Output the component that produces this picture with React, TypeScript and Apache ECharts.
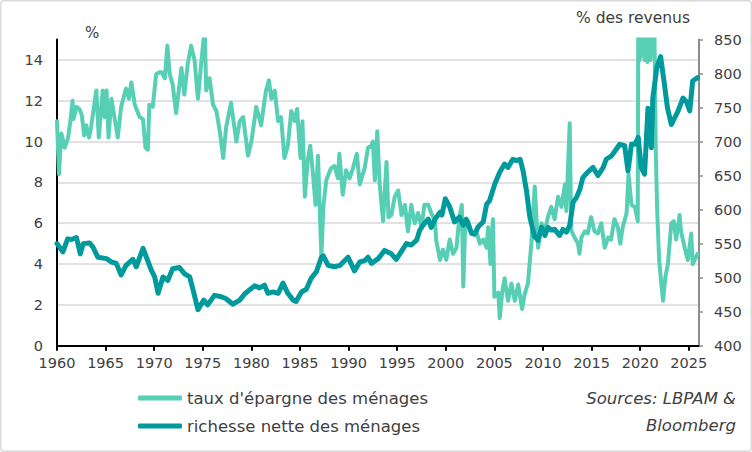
import React, { useEffect, useRef } from "react";
import * as echarts from "echarts";

const seriesNames = ["taux d'épargne des ménages", "richesse nette des ménages"];
const xTicks = [1960, 1965, 1970, 1975, 1980, 1985, 1990, 1995, 2000, 2005, 2010, 2015, 2020, 2025];

// taux d'épargne des ménages (%), [année, valeur]
const savingsRate: [number, number][] = [
  [1960.0, 11.0], [1960.2, 8.4], [1960.45, 10.4], [1960.8, 9.7], [1961.15, 10.2], [1961.4, 11.1], [1961.6, 12.0], [1961.7, 11.1],
  [1962.0, 11.7], [1962.3, 11.6], [1962.55, 11.3], [1962.8, 10.3], [1963.0, 10.8], [1963.3, 10.2], [1963.5, 10.7], [1964.05, 12.5],
  [1964.3, 10.2], [1964.7, 12.5], [1964.9, 11.2], [1965.1, 12.5], [1965.3, 10.2], [1965.6, 12.1], [1966.25, 10.2], [1966.6, 11.7],
  [1967.1, 12.6], [1967.4, 12.1], [1967.65, 12.9], [1968.0, 11.8], [1968.5, 11.2], [1968.85, 11.1], [1969.1, 9.7], [1969.35, 9.6],
  [1969.5, 11.8], [1969.85, 11.7], [1970.2, 13.3], [1970.55, 13.4], [1970.75, 13.4], [1971.1, 13.1], [1971.35, 14.7], [1971.6, 13.3],
  [1971.9, 12.8], [1972.25, 11.4], [1972.8, 13.6], [1973.1, 12.3], [1973.45, 13.8], [1973.8, 14.7], [1974.15, 14.0], [1974.5, 12.1],
  [1974.85, 13.9], [1975.2, 15.6], [1975.35, 12.5], [1975.7, 13.1], [1976.05, 11.8], [1976.4, 11.5], [1976.75, 10.5], [1977.1, 9.2],
  [1977.4, 10.7], [1977.9, 11.9], [1978.45, 10.0], [1978.8, 11.0], [1979.15, 11.2], [1979.65, 9.3], [1980.0, 10.0], [1980.5, 11.7],
  [1981.0, 10.8], [1981.5, 12.5], [1981.8, 13.0], [1982.05, 12.1], [1982.4, 12.5], [1982.75, 11.0], [1983.05, 11.2], [1983.4, 9.2],
  [1983.75, 9.8], [1984.1, 11.5], [1984.45, 11.0], [1984.7, 11.6], [1985.05, 9.2], [1985.25, 11.0], [1985.5, 7.3], [1985.8, 9.1],
  [1986.05, 9.8], [1986.3, 8.6], [1986.6, 6.9], [1986.85, 9.3], [1987.2, 4.35], [1987.4, 6.8], [1987.7, 8.1], [1988.2, 8.7],
  [1988.55, 8.8], [1988.9, 8.2], [1989.05, 9.4], [1989.4, 7.4], [1989.75, 8.6], [1990.1, 8.2], [1990.45, 8.7], [1990.85, 9.4],
  [1991.15, 7.9], [1991.65, 8.7], [1992.0, 9.7], [1992.35, 9.8], [1992.5, 10.0], [1992.7, 8.1], [1992.95, 10.5], [1993.2, 7.9],
  [1993.55, 6.1], [1993.9, 9.0], [1994.1, 6.3], [1994.4, 6.4], [1994.75, 7.3], [1995.1, 7.6], [1995.45, 6.4], [1995.8, 6.9],
  [1996.1, 5.6], [1996.45, 6.9], [1996.8, 6.0], [1997.15, 6.5], [1997.5, 5.8], [1997.8, 6.9], [1998.2, 6.9], [1998.5, 6.5],
  [1998.9, 6.1], [1999.0, 5.2], [1999.4, 4.2], [1999.7, 4.7], [2000.05, 4.2], [2000.4, 5.2], [2000.75, 4.5], [2001.1, 4.8],
  [2001.4, 6.3], [2001.65, 6.9], [2001.8, 2.9], [2002.0, 6.0], [2002.3, 6.1], [2002.6, 5.6], [2002.95, 5.4], [2003.15, 5.6],
  [2003.5, 5.0], [2003.85, 5.2], [2004.2, 4.8], [2004.35, 5.8], [2004.6, 4.0], [2004.85, 6.2], [2005.0, 2.4], [2005.4, 2.6],
  [2005.55, 1.35], [2005.8, 2.6], [2006.05, 3.3], [2006.4, 2.2], [2006.75, 3.05], [2007.1, 2.2], [2007.45, 3.0], [2007.85, 1.8],
  [2008.1, 2.5], [2008.45, 3.05], [2008.8, 5.0], [2009.15, 7.8], [2009.5, 4.8], [2009.85, 6.0], [2010.2, 5.6], [2010.5, 6.3],
  [2010.85, 6.8], [2011.2, 6.2], [2011.55, 7.3], [2011.9, 6.8], [2012.25, 7.9], [2012.4, 6.6], [2012.75, 10.9], [2012.9, 5.65],
  [2013.25, 5.3], [2013.6, 5.0], [2013.75, 4.5], [2013.95, 5.3], [2014.3, 5.6], [2014.6, 5.5], [2014.95, 6.3], [2015.3, 5.6],
  [2015.65, 5.5], [2016.0, 6.0], [2016.35, 4.8], [2016.7, 5.3], [2017.0, 5.2], [2017.35, 6.2], [2017.7, 5.8], [2017.95, 5.0],
  [2018.2, 5.8], [2018.6, 6.5], [2018.8, 8.4], [2019.1, 6.9], [2019.45, 6.8], [2019.75, 6.1], [2019.85, 26], [2019.95, 14.0],
  [2020.05, 20], [2020.15, 14.2], [2020.3, 18], [2020.45, 14.0], [2020.6, 16], [2020.75, 13.9], [2020.9, 19], [2021.05, 14.0],
  [2021.2, 22], [2021.35, 14.2], [2021.45, 16], [2021.6, 9.6], [2021.75, 6.6], [2021.95, 4.2],
  [2022.1, 3.4], [2022.35, 2.2], [2022.6, 3.4], [2022.85, 4.0], [2023.2, 6.0], [2023.45, 6.1], [2023.7, 5.2], [2024.05, 6.4],
  [2024.2, 5.6], [2024.6, 4.75], [2024.9, 4.2], [2025.25, 5.5], [2025.4, 4.0], [2025.9, 4.5],
];

// richesse nette des ménages (% des revenus), [année, valeur]
const netWorth: [number, number][] = [
  [1960.0, 550], [1960.6, 538], [1961.1, 557], [1961.5, 556], [1962.0, 559], [1962.4, 535], [1962.7, 550], [1963.35, 551],
  [1963.7, 545], [1964.2, 530], [1965.1, 528], [1965.6, 523], [1966.1, 521], [1966.6, 504], [1967.1, 518], [1967.8, 527],
  [1968.15, 516], [1968.85, 543], [1969.2, 530], [1969.7, 511], [1970.05, 501], [1970.4, 477], [1970.9, 501], [1971.4, 496],
  [1971.9, 513], [1972.6, 515], [1973.1, 506], [1973.65, 501], [1974.0, 482], [1974.5, 453], [1975.1, 467], [1975.5, 460],
  [1976.2, 474], [1976.9, 472], [1977.4, 469], [1978.1, 461], [1978.8, 467], [1979.3, 476], [1979.8, 482], [1980.35, 488],
  [1980.85, 485], [1981.35, 489], [1981.7, 477], [1982.2, 479], [1982.75, 477], [1983.25, 492], [1983.75, 477], [1984.3, 467],
  [1984.6, 465], [1985.15, 479], [1985.65, 483], [1986.15, 499], [1986.7, 509], [1987.2, 530], [1987.4, 532], [1987.9, 518],
  [1988.55, 516], [1989.1, 518], [1989.95, 530], [1990.6, 510], [1991.15, 523], [1991.65, 525], [1992.0, 530], [1992.35, 521],
  [1993.05, 528], [1993.7, 540], [1994.4, 535], [1994.9, 527], [1995.4, 538], [1995.95, 550], [1996.45, 548], [1997.0, 555],
  [1997.3, 569], [1997.65, 577], [1998.2, 586], [1998.5, 574], [1998.9, 586], [1999.4, 596], [1999.6, 592], [1999.95, 616],
  [2000.4, 604], [2000.9, 582], [2001.4, 589], [2001.8, 577], [2002.1, 586], [2002.65, 565], [2003.0, 565], [2003.3, 574],
  [2003.85, 582], [2004.2, 608], [2004.5, 613], [2005.05, 638], [2005.55, 655], [2006.05, 667], [2006.4, 662], [2006.9, 674],
  [2007.25, 672], [2007.65, 674], [2007.95, 657], [2008.3, 628], [2008.65, 589], [2009.15, 560], [2009.5, 555], [2009.85, 574],
  [2010.2, 562], [2010.5, 574], [2010.85, 570], [2011.2, 571], [2011.7, 562], [2012.05, 571], [2012.4, 567], [2012.75, 577],
  [2013.1, 611], [2013.45, 618], [2013.8, 630], [2014.1, 647], [2014.6, 655], [2015.15, 662], [2015.65, 650], [2016.2, 662],
  [2016.5, 674], [2017.05, 679], [2017.55, 689], [2017.9, 696], [2018.4, 694], [2018.75, 657], [2019.1, 696], [2019.45, 696],
  [2019.8, 706], [2020.1, 662], [2020.45, 652], [2020.8, 749], [2021.15, 691], [2021.3, 764], [2021.7, 808], [2022.1, 825],
  [2022.45, 789], [2022.8, 750], [2023.2, 725], [2023.55, 735], [2023.9, 745], [2024.4, 764], [2024.75, 759], [2025.1, 745],
  [2025.4, 789], [2025.9, 794],
];

const LIGHT = "#57CFB5";
const DARK = "#00999C";
const FONT = "'DejaVu Sans', sans-serif";
const TXT = "#404040";

export default function App() {
  const ref = useRef<HTMLDivElement>(null);
  useEffect(() => {
    if (!ref.current) return;
    const chart = echarts.init(ref.current, null, { renderer: "svg" });
    chart.setOption({
      animation: false,
      backgroundColor: "#ffffff",
      textStyle: { fontFamily: FONT },
      grid: { left: 57, right: 53, top: 39.5, bottom: 106.3 },
      legend: {
        data: seriesNames,
        orient: "vertical",
        left: 138,
        top: 389,
        padding: 0,
        itemWidth: 44,
        itemHeight: 5,
        itemGap: 10,
        icon: "roundRect",
        textStyle: { fontSize: 16.5, color: TXT, fontFamily: FONT, lineHeight: 18 },
      },
      xAxis: {
        type: "value",
        min: 1960,
        max: 2026.05,
        interval: 5,
        axisLine: { show: true, onZero: false, lineStyle: { color: "#000", width: 2 } },
        axisTick: { show: true, length: 5, customValues: xTicks, lineStyle: { color: "#000", width: 2 } },
        axisLabel: {
          customValues: xTicks,
          formatter: (v: number) => String(v),
          fontSize: 14.5,
          color: TXT,
          margin: 10,
          fontFamily: FONT,
        },
        splitLine: { show: false },
      },
      yAxis: [
        {
          type: "value",
          min: 0,
          max: 15,
          interval: 2,
          position: "left",
          axisLine: { show: true, onZero: false, lineStyle: { color: "#000", width: 2 } },
          axisTick: { show: false },
          axisLabel: {
            formatter: (v: number) => (v > 14 ? "" : String(v)),
            fontSize: 14.5,
            color: TXT,
            margin: 14,
            fontFamily: FONT,
          },
          splitLine: { show: true, showMinLine: false, showMaxLine: false, lineStyle: { color: "#d9d9d9", width: 1.5 } },
        },
        {
          type: "value",
          min: 400,
          max: 850,
          interval: 50,
          position: "right",
          axisLine: { show: true, onZero: false, lineStyle: { color: "#8c8c8c", width: 2 } },
          axisTick: { show: true, inside: false, length: 4, lineStyle: { color: "#8c8c8c", width: 1.5 } },
          axisLabel: { fontSize: 14.5, color: TXT, margin: 15, fontFamily: FONT },
          splitLine: { show: false },
        },
      ],
      graphic: [
        {
          type: "rect",
          silent: true,
          shape: { x: 0.75, y: 0.75, width: 750.5, height: 450.5, r: 3 },
          style: { fill: "none", stroke: "#d9d9d9", lineWidth: 1.5 },
        },
        {
          type: "text",
          x: 92,
          y: 33,
          style: { text: "%", fontSize: 15, fill: TXT, fontFamily: FONT, textAlign: "center", textVerticalAlign: "middle" },
        },
        {
          type: "text",
          x: 633,
          y: 18,
          style: { text: "% des revenus", fontSize: 15.5, fill: TXT, fontFamily: FONT, textAlign: "center", textVerticalAlign: "middle" },
        },
        {
          type: "text",
          x: 736,
          y: 398,
          style: { text: "Sources: LBPAM &", fontSize: 16.5, fontStyle: "italic", fill: TXT, fontFamily: FONT, textAlign: "right", textVerticalAlign: "middle" },
        },
        {
          type: "text",
          x: 736,
          y: 425,
          style: { text: "Bloomberg", fontSize: 16.5, fontStyle: "italic", fill: TXT, fontFamily: FONT, textAlign: "right", textVerticalAlign: "middle" },
        },
      ],
      series: [
        {
          name: seriesNames[0],
          type: "line",
          yAxisIndex: 0,
          data: savingsRate,
          showSymbol: false,
          clip: true,
          color: LIGHT,
          lineStyle: { color: LIGHT, width: 4, cap: "round", join: "round" },
        },
        {
          name: seriesNames[1],
          type: "line",
          yAxisIndex: 1,
          data: netWorth,
          showSymbol: false,
          clip: true,
          color: DARK,
          lineStyle: { color: DARK, width: 5, cap: "round", join: "round" },
        },
      ],
    });
    return () => chart.dispose();
  }, []);
  return <div ref={ref} style={{ position: "fixed", left: 0, top: 0, width: 752, height: 452 }} />;
}
